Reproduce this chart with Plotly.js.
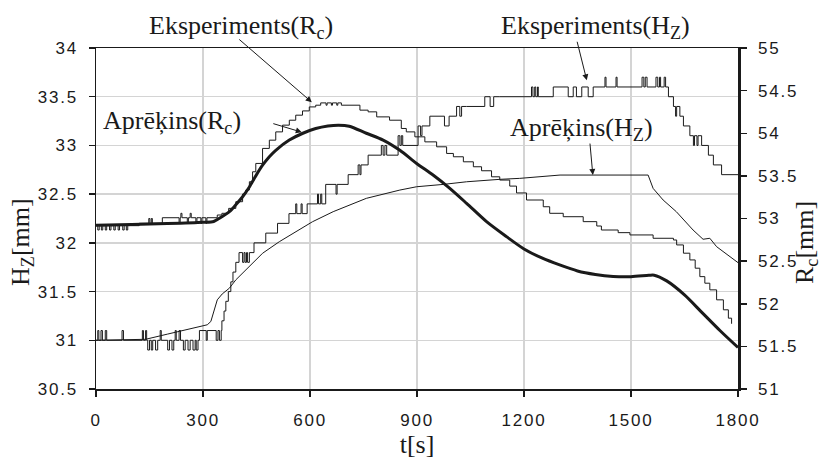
<!DOCTYPE html>
<html><head><meta charset="utf-8">
<script src="https://cdn.plot.ly/plotly-3.0.1.min.js"></script>
<style>
html,body{margin:0;padding:0;background:#fff}
#chart{width:825px;height:459px}
.xtick text,.ytick text,.y2tick text{letter-spacing:1.8px}
</style>
</head><body><div id="chart"></div>
<script>
// ---- data ----
var xTicks = [0, 300, 600, 900, 1200, 1500, 1800];

// Eksperiments(Rc) – measured Rc [mm], stepped (right axis)
var expRcT = [0,5,9,15,19,26,30,38,42,50,54,62,66,75,79,85,89,121,148,151,155,158,186,233,236,238,241,256,259,264,267,280,283,294,297,308,311,340,353,372,392,411,420,430,439,448,467,486,504,523,542,560,579,598,616,630,645,648,660,663,675,678,688,740,763,787,823,856,870,894,922,955,983,1002,1030,1058,1081,1109,1132,1160,1179,1207,1254,1272,1310,1366,1404,1417,1464,1497,1562,1619,1628,1647,1665,1680,1693,1707,1721,1740,1759,1773,1782];
var expRcV = [52.916,52.865,52.916,52.865,52.916,52.865,52.916,52.865,52.916,52.865,52.916,52.865,52.916,52.865,52.916,52.865,52.916,52.944,53.0,52.944,53.0,52.944,53.009,52.944,53.009,53.061,53.009,52.944,53.009,53.061,53.009,52.944,53.009,52.944,53.009,52.944,53.009,53.041,53.061,53.119,53.197,53.287,53.334,53.431,53.548,53.646,53.822,53.919,54.016,54.095,54.153,54.212,54.262,54.309,54.329,54.356,54.329,54.356,54.329,54.356,54.329,54.356,54.329,54.271,54.251,54.192,54.153,54.056,54.016,53.958,53.899,53.841,53.763,53.724,53.665,53.607,53.56,53.489,53.451,53.38,53.3,53.217,53.138,53.061,53.021,52.963,52.912,52.865,52.834,52.807,52.768,52.748,52.69,52.593,52.514,52.417,52.318,52.241,52.163,52.046,51.929,51.831,51.765];

// Aprēķins(Rc) – computed Rc [mm] (right axis)
var calcRcT = [0,100,200,300,330,345,374,392,411,430,448,467,486,504,542,580,616,650,680,710,758,805,852,899,945,992,1039,1095,1151,1200,1250,1300,1350,1400,1450,1500,1550,1565,1600,1650,1700,1750,1800];
var calcRcV = [52.92,52.93,52.94,52.955,52.965,53.0,53.08,53.16,53.255,53.37,53.5,53.625,53.725,53.8,53.92,54.0,54.055,54.085,54.095,54.083,54.0,53.92,53.8,53.646,53.51,53.354,53.178,52.963,52.787,52.643,52.537,52.455,52.385,52.344,52.321,52.318,52.333,52.335,52.268,52.104,51.893,51.683,51.487];

// Eksperiments(Hz) – measured Hz [mm], stepped (left axis)
var expHzT = [0,5,8,14,18,26,30,73,77,130,133,139,142,145,150,155,159,167,173,180,183,201,206,213,218,222,225,233,237,245,250,258,264,272,278,281,286,290,309,312,337,342,346,351,353,359,364,371,378,384,392,401,411,415,418,422,425,430,443,476,509,541,560,563,575,578,592,621,624,630,633,644,673,676,707,735,740,743,763,800,805,810,815,847,852,856,860,903,910,914,936,977,990,1011,1020,1025,1039,1090,1105,1115,
  1132,1221,1225,1230,1233,1238,1240,1282,1324,1338,1347,1362,1380,1394,1427,1430,1458,1461,1531,1536,1540,1545,1570,1575,1580,1583,1593,1597,1605,1619,1625,1628,1637,1647,1665,1675,1678,1685,1688,1698,1717,1731,1754,1800];
var expHzV = [31.0,31.1,31.0,31.1,31.0,31.1,31.0,31.1,31.0,31.1,31.0,31.1,31.0,30.9,31.0,30.9,31.0,30.9,31.0,31.1,31.0,30.9,31.0,30.9,31.0,31.1,31.0,31.1,31.0,30.9,31.0,30.9,31.0,30.9,31.0,30.9,31.0,31.1,31.0,31.1,31.0,31.1,31.0,31.1,31.2,31.3,31.4,31.5,31.6,31.7,31.8,31.9,31.8,31.9,31.8,31.9,31.8,31.9,32.0,32.1,32.2,32.3,32.4,32.3,32.4,32.3,32.4,32.5,32.4,32.5,32.4,32.6,32.5,32.6,32.7,32.8,32.7,32.8,32.9,33.0,32.9,33.0,32.9,33.1,33.0,33.1,33.0,33.2,33.1,33.2,33.3,33.2,33.3,33.4,33.3,33.4,33.4,33.5,33.4,33.5,
  33.5,33.6,33.5,33.6,33.5,33.6,33.5,33.6,33.5,33.6,33.5,33.6,33.5,33.6,33.7,33.6,33.7,33.6,33.7,33.6,33.7,33.6,33.7,33.6,33.7,33.6,33.7,33.6,33.5,33.4,33.3,33.4,33.3,33.2,33.1,33.0,33.1,33.0,33.1,33.0,32.9,32.8,32.7,32.7];

// Aprēķins(Hz) – computed Hz [mm] (left axis)
var calcHzT = [0,139,200,250,312,322,331,340,354,374,392,411,439,467,514,560,607,665,758,852,899,974,1039,1132,1188,1301,1441,1535,1548,1562,1590,1627,1674,1702,1721,1740,1777,1800];
var calcHzV = [31.0,31.01,31.063,31.107,31.159,31.193,31.313,31.415,31.476,31.535,31.62,31.689,31.791,31.893,32.012,32.115,32.217,32.32,32.457,32.542,32.576,32.6,32.627,32.652,32.662,32.696,32.696,32.703,32.696,32.559,32.44,32.32,32.132,32.037,32.047,31.961,31.859,31.797];

// ---- drawing ----
var ink = '#1a1a1a';
var tickFont = {family: 'Liberation Sans, Arial, sans-serif', size: 17, color: ink};
var serif = {family: 'Liberation Serif, Times New Roman, serif', size: 26, color: ink};

var traces = [
  {x: expHzT, y: expHzV, yaxis: 'y', mode: 'lines', name: 'Eksperiments(Hz)', line: {color: ink, width: 1, shape: 'hv'}},
  {x: calcHzT, y: calcHzV, yaxis: 'y', mode: 'lines', name: 'Aprēķins(Hz)', line: {color: ink, width: 1}},
  {x: expRcT, y: expRcV, yaxis: 'y2', mode: 'lines', name: 'Eksperiments(Rc)', line: {color: ink, width: 1, shape: 'hv'}},
  {x: calcRcT, y: calcRcV, yaxis: 'y2', mode: 'lines', name: 'Aprēķins(Rc)', line: {color: ink, width: 3, shape: 'spline', smoothing: 0.8}}
];

var arrow = {showarrow: true, arrowhead: 2, arrowsize: 1.2, arrowwidth: 1, arrowcolor: ink, text: ''};
function arr(x, y, ax, ay) { return Object.assign({xref: 'x', yref: 'y', x: x, y: y, ax: ax, ay: ay}, arrow); }
function lbl(x, y, t, ang) { return {xref: 'paper', yref: 'paper', x: x, y: y, text: t, showarrow: false, font: serif, xanchor: 'center', yanchor: 'middle', textangle: ang || 0}; }

var layout = {
  width: 825, height: 459,
  margin: {l: 96, r: 87, t: 48, b: 70},
  paper_bgcolor: '#fff', plot_bgcolor: '#fff',
  showlegend: false,
  xaxis: {
    range: [0, 1800], tickvals: xTicks, ticktext: xTicks.map(String),
    showgrid: true, gridcolor: '#d4d4d4', gridwidth: 1.5, zeroline: false,
    showline: true, linecolor: ink, linewidth: 1.5, mirror: true,
    ticks: 'outside', ticklen: 6, tickcolor: ink, tickwidth: 1.5,
    tickfont: tickFont, ticklabelstandoff: 9,
    title: {text: 't[s]', font: serif, standoff: 4}
  },
  yaxis: {
    range: [30.5, 34], tick0: 30.5, dtick: 0.5,
    showgrid: true, gridcolor: '#d4d4d4', gridwidth: 1.5, zeroline: false,
    showline: true, linecolor: ink, linewidth: 1.5,
    ticks: 'outside', ticklen: 6, tickcolor: ink, tickwidth: 1.5,
    tickfont: tickFont, ticklabelstandoff: 7
  },
  yaxis2: {
    overlaying: 'y', side: 'right', range: [51, 55], tick0: 51, dtick: 0.5,
    showgrid: false, zeroline: false,
    showline: true, linecolor: ink, linewidth: 2.5,
    ticks: 'outside', ticklen: 6, tickcolor: ink, tickwidth: 1.5,
    tickfont: tickFont, ticklabelstandoff: 8
  },
  yaxis3: {
    overlaying: 'y', side: 'right', range: [51, 55], tick0: 51, dtick: 0.5,
    showgrid: false, zeroline: false, showline: false, showticklabels: false,
    ticks: 'inside', ticklen: 6, tickcolor: ink, tickwidth: 1.5
  },
  annotations: [
    lbl(-0.1153, 0.431, 'H<sub>Z</sub>[mm]', -90),
    lbl(1.1059, 0.431, 'R<sub>c</sub>[mm]', -90),
    lbl(0.2259, 1.0606, 'Eksperiments(R<sub>c</sub>)'),
    lbl(0.1184, 0.7825, 'Aprēķins(R<sub>c</sub>)'),
    lbl(0.7773, 1.0606, 'Eksperiments(H<sub>Z</sub>)'),
    lbl(0.7555, 0.762, 'Aprēķins(H<sub>Z</sub>)'),
    arr(605, 33.444, -74, -64),
    arr(577, 33.136, -30, -9),
    arr(1376, 33.669, -10, -40),
    arr(1393, 32.696, -3, -33)
  ]
};

Plotly.newPlot('chart', traces, layout, {displayModeBar: false, staticPlot: true});
</script></body></html>
